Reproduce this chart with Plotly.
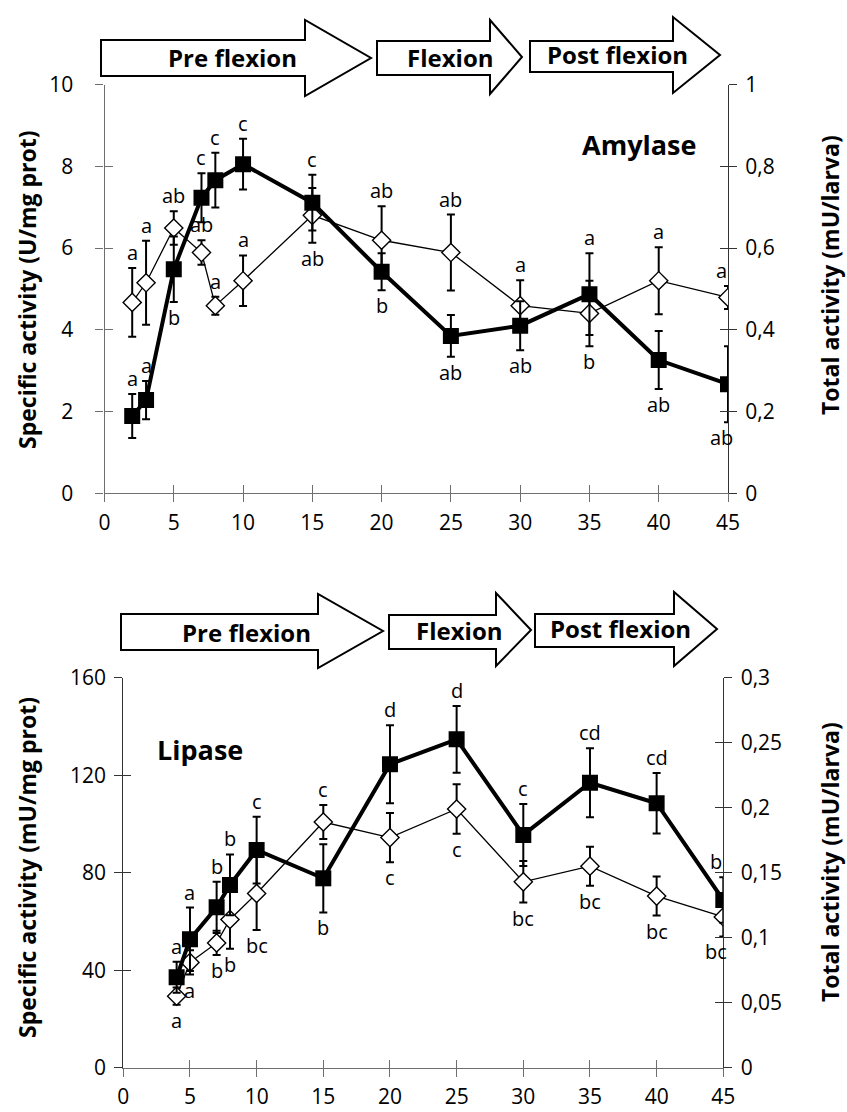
import plotly.graph_objects as go

W, H = 847, 1112

# ---------------- data ----------------
# Amylase
amy_days = [2, 3, 5, 7, 8, 10, 15, 20, 25, 30, 35, 40, 45]
amy_spec = [1.89, 2.28, 5.48, 7.23, 7.66, 8.05, 7.11, 5.42, 3.85, 4.10, 4.87, 3.26, 2.67]
amy_spec_err = [0.54, 0.47, 0.80, 0.60, 0.67, 0.62, 0.68, 0.45, 0.51, 0.60, 1.00, 0.71, 0.93]
amy_total = [0.467, 0.515, 0.649, 0.589, 0.459, 0.520, 0.680, 0.619, 0.589, 0.459, 0.440, 0.520, 0.479]
amy_total_err = [0.084, 0.103, 0.041, 0.030, 0.022, 0.062, 0.067, 0.083, 0.093, 0.062, 0.080, 0.082, 0.028]
amy_spec_letters = ["a", "a", "b", "c", "c", "c", "c", "b", "ab", "ab", "a", "ab", "ab"]
amy_spec_side = ["up", "up", "down", "up", "up", "up", "up", "down", "down", "down", "up", "down", "down"]
amy_total_letters = ["a", "a", "ab", "ab", "a", "a", "ab", "ab", "ab", "a", "b", "a", "a"]
amy_total_side = ["up", "up", "up", "up", "up", "up", "down", "up", "up", "up", "down", "up", "up"]

# Lipase
lip_days = [4, 5, 7, 8, 10, 15, 20, 25, 30, 35, 40, 45]
lip_spec = [37.1, 52.7, 65.8, 75.0, 89.3, 77.7, 124.5, 134.7, 95.5, 116.9, 108.5, 68.8]
lip_spec_err = [6.4, 13.0, 10.5, 12.5, 13.7, 14.0, 16.0, 13.7, 12.7, 14.2, 12.4, 9.3]
lip_total = [0.055, 0.081, 0.096, 0.114, 0.134, 0.189, 0.177, 0.199, 0.143, 0.155, 0.132, 0.116]
lip_total_err = [0.0066, 0.0094, 0.0094, 0.0225, 0.028, 0.013, 0.019, 0.019, 0.016, 0.015, 0.015, 0.015]
lip_spec_letters = ["a", "a", "b", "b", "c", "b", "d", "d", "c", "cd", "cd", "b"]
lip_spec_side = ["up", "up", "up", "up", "up", "down", "up", "up", "up", "up", "up", "up"]
lip_total_letters = ["a", "a", "b", "b", "bc", "c", "c", "c", "bc", "bc", "bc", "bc"]
lip_total_side = ["down", "down", "down", "down", "down", "up", "down", "down", "down", "down", "down", "down"]

# ticks
x_ticks = [0, 5, 10, 15, 20, 25, 30, 35, 40, 45]
amy_left_ticks = [0, 2, 4, 6, 8, 10]
amy_right_ticks = [0, 0.2, 0.4, 0.6, 0.8, 1.0]
amy_right_text = ["0", "0,2", "0,4", "0,6", "0,8", "1"]
lip_left_ticks = [0, 40, 80, 120, 160]
lip_right_ticks = [0, 0.05, 0.10, 0.15, 0.20, 0.25, 0.30]
lip_right_text = ["0", "0,05", "0,1", "0,15", "0,2", "0,25", "0,3"]

stages = ["Pre flexion", "Flexion", "Post flexion"]
left_title_amy = "Specific activity (U/mg prot)"
left_title_lip = "Specific activity (mU/mg prot)"
right_title = "Total activity (mU/larva)"

FONT = "Open Sans"


def px(x):
    return x / W


def py(y):
    return 1 - y / H


fig = go.Figure()

err_style = dict(type="data", color="black", thickness=2, width=4)


def add_pair(xa, ya_total, ya_spec, days, total, total_err, spec, spec_err):
    fig.add_trace(go.Scatter(
        x=days, y=total, xaxis=xa, yaxis=ya_total, mode="lines+markers",
        line=dict(color="black", width=1.3),
        marker=dict(symbol="diamond", size=14, color="white",
                    line=dict(color="black", width=1.4)),
        error_y=dict(array=total_err, **err_style), showlegend=False,
        hoverinfo="skip"))
    fig.add_trace(go.Scatter(
        x=days, y=spec, xaxis=xa, yaxis=ya_spec, mode="lines+markers",
        line=dict(color="black", width=4),
        marker=dict(symbol="square", size=16, color="black"),
        error_y=dict(array=spec_err, **err_style), showlegend=False,
        hoverinfo="skip"))


add_pair("x", "y", "y2", amy_days, amy_total, amy_total_err, amy_spec, amy_spec_err)
add_pair("x2", "y3", "y4", lip_days, lip_total, lip_total_err, lip_spec, lip_spec_err)

# dummy traces for the overlay axes that draw the inner half of crossing ticks
for xa, ya in [("x3", "y"), ("x", "y5"), ("x", "y6"), ("x4", "y3"), ("x2", "y7"), ("x2", "y8")]:
    fig.add_trace(go.Scatter(x=[None], y=[None], xaxis=xa, yaxis=ya,
                             showlegend=False, hoverinfo="skip"))

AX_GRAY = "#6f6f6f"
AX_DARK = "#333333"
tickfont = dict(family=FONT, size=21, color="black")

top_xdom = [px(104.5), px(728)]
top_ydom = [py(493.3), py(84.5)]
bot_xdom = [px(123.3), px(723.3)]
bot_ydom = [py(1067.7), py(677.7)]


def xaxis(dom, anchor, color):
    return dict(domain=dom, anchor=anchor, range=[0, 45], tickvals=x_ticks,
                ticks="outside", ticklen=8, tickwidth=1.3, tickcolor=color,
                showline=True, linecolor=color, linewidth=1.3,
                showgrid=False, zeroline=False, tickfont=tickfont,
                fixedrange=True, automargin=False, ticklabelstandoff=2)


def yaxis(rng, tv, tt, side, color, **kw):
    d = dict(range=rng, tickvals=tv, ticktext=tt, side=side,
             ticks="outside", ticklen=8, tickwidth=1.3, tickcolor=color,
             showline=True, linecolor=color, linewidth=1.3,
             showgrid=False, zeroline=False, tickfont=tickfont,
             fixedrange=True, automargin=False)
    d.update(kw)
    return d


def inner(rng, tv, color, **kw):
    d = dict(range=rng, tickvals=tv, ticks="inside", ticklen=8, tickwidth=1.3,
             tickcolor=color, showline=False, showticklabels=False,
             showgrid=False, zeroline=False, fixedrange=True, automargin=False)
    d.update(kw)
    return d


layout = dict(
    width=W, height=H, margin=dict(l=0, r=0, t=0, b=0, pad=0, autoexpand=False),
    paper_bgcolor="white", plot_bgcolor="rgba(0,0,0,0)",
    font=dict(family=FONT, color="black"),
    xaxis=xaxis(top_xdom, "y", AX_GRAY),
    yaxis=yaxis([0, 1], amy_right_ticks, amy_right_text, "right", AX_DARK,
                domain=top_ydom, anchor="x", ticklabelstandoff=4),
    yaxis2=yaxis([0, 10], amy_left_ticks, [str(v) for v in amy_left_ticks], "left",
                 AX_GRAY, overlaying="y", anchor="x", ticklabelstandoff=18),
    xaxis2=xaxis(bot_xdom, "y3", AX_GRAY),
    yaxis3=yaxis([0, 0.3], lip_right_ticks, lip_right_text, "right", AX_DARK,
                 domain=bot_ydom, anchor="x2", ticklabelstandoff=4),
    yaxis4=yaxis([0, 160], lip_left_ticks, [str(v) for v in lip_left_ticks], "left",
                 AX_DARK, overlaying="y3", anchor="x2", ticklabelstandoff=4),
    xaxis3=inner([0, 45], x_ticks, AX_GRAY, overlaying="x", anchor="y", side="bottom"),
    yaxis5=inner([0, 10], amy_left_ticks, AX_GRAY, overlaying="y", anchor="x", side="left"),
    yaxis6=inner([0, 1], amy_right_ticks, AX_DARK, overlaying="y", anchor="x", side="right"),
    xaxis4=inner([0, 45], x_ticks, AX_GRAY, overlaying="x2", anchor="y3", side="bottom"),
    yaxis7=inner([0, 160], lip_left_ticks, AX_DARK, overlaying="y3", anchor="x2", side="left"),
    yaxis8=inner([0, 0.3], lip_right_ticks, AX_DARK, overlaying="y3", anchor="x2", side="right"),
)

annotations = []
letter_font = dict(family=FONT, size=20, color="black")


def add_letters(xa, ya, days, vals, errs, letters, sides):
    for d, v, e, t, s in zip(days, vals, errs, letters, sides):
        up = s == "up"
        annotations.append(dict(
            x=d, y=v + e if up else v - e, xref=xa, yref=ya, text=t,
            showarrow=False, font=letter_font,
            yanchor="bottom" if up else "top", xanchor="center",
            xshift=-7 if d == max(x_ticks) else 0, yshift=0))


add_letters("x", "y2", amy_days, amy_spec, amy_spec_err, amy_spec_letters, amy_spec_side)
add_letters("x", "y", amy_days, amy_total, amy_total_err, amy_total_letters, amy_total_side)
add_letters("x2", "y4", lip_days, lip_spec, lip_spec_err, lip_spec_letters, lip_spec_side)
add_letters("x2", "y3", lip_days, lip_total, lip_total_err, lip_total_letters, lip_total_side)

bold = lambda s: "<b>" + s + "</b>"


def paper_text(text, x, y, size, angle=0):
    annotations.append(dict(x=px(x), y=py(y), xref="paper", yref="paper",
                            text=bold(text), textangle=angle, showarrow=False,
                            font=dict(family=FONT, size=size, color="black"),
                            xanchor="center", yanchor="middle"))


for text, x, y in [(left_title_amy, 27, 290), (right_title, 830, 275),
                   (left_title_lip, 27, 868), (right_title, 830, 862)]:
    paper_text(text, x, y, 23, -90)

paper_text("Amylase", 639, 145, 27)
paper_text("Lipase", 200, 749, 27)

# stage arrows (decorative)
shapes = []


def arrow(x0, xb, xt, bt, bb, ht, hb, ty):
    pts = [(x0, bt), (xb, bt), (xb, ht), (xt, ty), (xb, hb), (xb, bb), (x0, bb)]
    path = "M " + " L ".join(f"{px(a):.5f},{py(b):.5f}" for a, b in pts) + " Z"
    shapes.append(dict(type="path", path=path, xref="paper", yref="paper",
                       line=dict(color="black", width=2), fillcolor="white",
                       layer="above"))


top_arrows = [(101, 305, 371, 40, 76, 20, 96, 58),
              (377, 490, 522, 41, 75, 20, 94, 57),
              (530, 673, 720, 41, 72, 17, 93, 55)]
bot_arrows = [(121, 318, 383, 614, 650, 594, 668, 631),
              (389, 496, 531, 615, 649, 593, 666, 630),
              (535, 674, 717, 614, 647, 592, 666, 629)]
for a in top_arrows + bot_arrows:
    arrow(*a)

for name, x, y in zip(stages, [232, 450, 617], [57, 57, 54]):
    paper_text(name, x, y, 24)
for name, x, y in zip(stages, [246, 459, 620], [632, 630, 628]):
    paper_text(name, x, y, 24)

layout["annotations"] = annotations
layout["shapes"] = shapes
fig.update_layout(**layout)

fig.write_html("out.html")
